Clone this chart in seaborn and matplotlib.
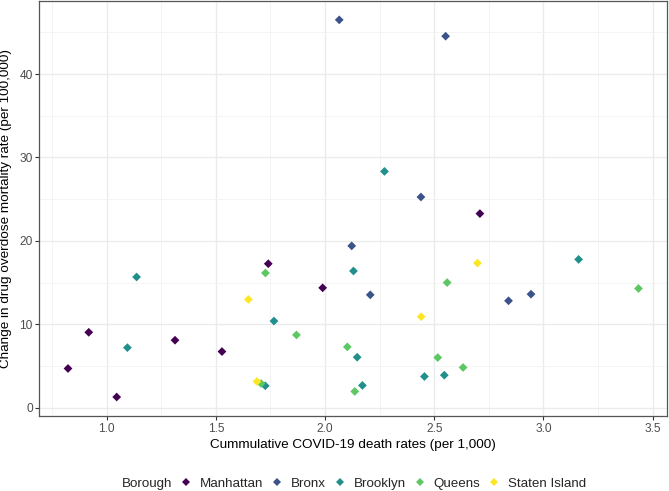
import matplotlib
matplotlib.use("Agg")
import matplotlib.pyplot as plt
import seaborn as sns
import pandas as pd
from matplotlib.offsetbox import HPacker
from matplotlib.ticker import MultipleLocator, FormatStrFormatter

# ---- data ----
boroughs = ["Manhattan", "Bronx", "Brooklyn", "Queens", "Staten Island"]
palette = ["#440154", "#3B528B", "#21908C", "#5DC863", "#FDE725"]

manhattan_x = [0.823, 0.918, 1.046, 1.313, 1.528, 1.740, 1.989, 2.709]
manhattan_y = [4.70, 9.04, 1.28, 8.09, 6.73, 17.26, 14.37, 23.27]

bronx_x = [2.065, 2.552, 2.439, 2.122, 2.207, 2.840, 2.943]
bronx_y = [46.5, 44.54, 25.26, 19.4, 13.53, 12.82, 13.61]

brooklyn_x = [2.272, 1.137, 1.095, 1.766, 1.726, 2.130, 2.147, 2.171, 2.455, 2.546, 3.161]
brooklyn_y = [28.33, 15.67, 7.20, 10.39, 2.63, 16.39, 6.05, 2.67, 3.74, 3.90, 17.78]

queens_x = [1.727, 1.869, 2.102, 2.136, 2.559, 2.516, 2.632, 3.435, 1.707]
queens_y = [16.15, 8.72, 7.29, 1.95, 15.00, 6.01, 4.82, 14.29, 2.90]

staten_x = [1.649, 1.688, 2.440, 2.698]
staten_y = [12.98, 3.14, 10.91, 17.34]

xs = [manhattan_x, bronx_x, brooklyn_x, queens_x, staten_x]
ys = [manhattan_y, bronx_y, brooklyn_y, queens_y, staten_y]
rows = []
for b, xv, yv in zip(boroughs, xs, ys):
    for x, y in zip(xv, yv):
        rows.append({"Borough": b, "covid": x, "overdose": y})
df = pd.DataFrame(rows)

# ---- style ----
sns.set_theme(style="white")
plt.rcParams["font.family"] = ["Liberation Sans", "DejaVu Sans"]

fig = plt.figure(figsize=(6.69, 4.91), dpi=100)
ax = fig.add_axes([0.059, 0.153, 0.938, 0.845])

sns.scatterplot(data=df, x="covid", y="overdose", hue="Borough",
                hue_order=boroughs, palette=palette, marker="D",
                s=20, linewidth=0, ax=ax, zorder=3)

ax.margins(x=0.05, y=0.05)
ax.xaxis.set_major_locator(MultipleLocator(0.5))
ax.xaxis.set_minor_locator(MultipleLocator(0.25))
ax.yaxis.set_major_locator(MultipleLocator(10))
ax.yaxis.set_minor_locator(MultipleLocator(5))
ax.xaxis.set_major_formatter(FormatStrFormatter("%.1f"))

ax.grid(which="major", color="#EBEBEB", linewidth=1.0, zorder=0)
ax.grid(which="minor", color="#F2F2F2", linewidth=0.6, zorder=0)
ax.set_axisbelow(True)
for sp in ax.spines.values():
    sp.set_color("#555555")
    sp.set_linewidth(0.9)

ax.tick_params(which="major", direction="out", length=2.9, width=0.8,
               color="#333333", labelsize=8.6, labelcolor="#4D4D4D", pad=2,
               bottom=True, left=True)
ax.tick_params(which="minor", length=0)

ax.set_xlabel("Cummulative COVID-19 death rates (per 1,000)", fontsize=9.7, color="black")
ax.set_ylabel("Change in drug overdose mortality rate (per 100,000)", fontsize=9.7, color="black")
ax.xaxis.set_label_coords(0.5, -0.07)
ax.xaxis.label.set_va("center")
ax.yaxis.set_label_coords(-0.053, 0.5)
ax.yaxis.label.set_va("center")

sns.move_legend(ax, loc="center", bbox_to_anchor=(0.529, 0.0143),
                bbox_transform=fig.transFigure, ncol=5, frameon=False,
                title="Borough", fontsize=9.6, title_fontsize=9.6,
                handlelength=0.8, handletextpad=0.62, columnspacing=0.65,
                borderpad=0, borderaxespad=0, markerscale=1.0)
leg = ax.get_legend()
newbox = HPacker(pad=0, sep=6.3, align="center",
                 children=[leg._legend_title_box, leg._legend_handle_box])
newbox.set_figure(fig)
newbox.axes = ax
newbox.set_offset(leg._findoffset)
leg._legend_box = newbox

fig.savefig("out.png", dpi=100)
